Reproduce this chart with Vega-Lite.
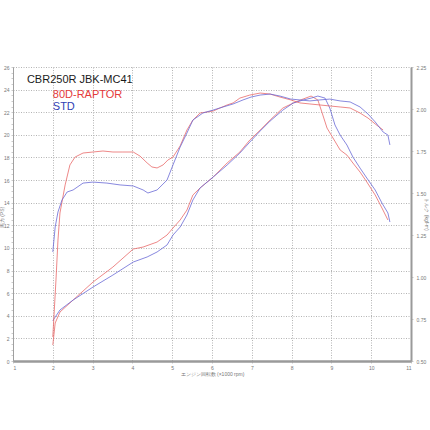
{
  "$schema": "https://vega.github.io/schema/vega-lite/v6.json",
  "autosize": {"type": "none"},
  "width": 398,
  "height": 294,
  "padding": {"left": 13, "top": 67, "right": 19, "bottom": 69},
  "background": "white",
  "config": {"view": {"stroke": null}, "font": "Liberation Sans"},
  "datasets": {
    "labels": [
      {"rpm": 1.35, "L": 24.85, "label": "CBR250R JBK-MC41", "kind": "model"},
      {"rpm": 2.0, "L": 23.52, "label": "80D-RAPTOR", "kind": "80D-RAPTOR"},
      {"rpm": 2.0, "L": 22.46, "label": "STD", "kind": "STD"}
    ],
    "power": [
      {"series": "80D-RAPTOR", "rpm": 2.00, "ps": 1.41},
      {"series": "80D-RAPTOR", "rpm": 2.06, "ps": 3.36},
      {"series": "80D-RAPTOR", "rpm": 2.18, "ps": 4.33},
      {"series": "80D-RAPTOR", "rpm": 2.51, "ps": 5.39},
      {"series": "80D-RAPTOR", "rpm": 3.01, "ps": 6.98},
      {"series": "80D-RAPTOR", "rpm": 3.51, "ps": 8.31},
      {"series": "80D-RAPTOR", "rpm": 4.02, "ps": 9.90},
      {"series": "80D-RAPTOR", "rpm": 4.27, "ps": 10.08},
      {"series": "80D-RAPTOR", "rpm": 4.62, "ps": 10.52},
      {"series": "80D-RAPTOR", "rpm": 4.87, "ps": 11.14},
      {"series": "80D-RAPTOR", "rpm": 5.02, "ps": 11.76},
      {"series": "80D-RAPTOR", "rpm": 5.20, "ps": 12.47},
      {"series": "80D-RAPTOR", "rpm": 5.37, "ps": 13.35},
      {"series": "80D-RAPTOR", "rpm": 5.52, "ps": 14.68},
      {"series": "80D-RAPTOR", "rpm": 5.70, "ps": 15.30},
      {"series": "80D-RAPTOR", "rpm": 6.03, "ps": 16.27},
      {"series": "80D-RAPTOR", "rpm": 6.38, "ps": 17.51},
      {"series": "80D-RAPTOR", "rpm": 6.70, "ps": 18.48},
      {"series": "80D-RAPTOR", "rpm": 6.95, "ps": 19.54},
      {"series": "80D-RAPTOR", "rpm": 7.21, "ps": 20.42},
      {"series": "80D-RAPTOR", "rpm": 7.46, "ps": 21.31},
      {"series": "80D-RAPTOR", "rpm": 7.78, "ps": 22.37},
      {"series": "80D-RAPTOR", "rpm": 8.04, "ps": 22.81},
      {"series": "80D-RAPTOR", "rpm": 8.29, "ps": 23.17},
      {"series": "80D-RAPTOR", "rpm": 8.49, "ps": 23.43},
      {"series": "80D-RAPTOR", "rpm": 8.66, "ps": 23.08},
      {"series": "80D-RAPTOR", "rpm": 8.76, "ps": 22.02},
      {"series": "80D-RAPTOR", "rpm": 8.89, "ps": 20.60},
      {"series": "80D-RAPTOR", "rpm": 9.04, "ps": 19.72},
      {"series": "80D-RAPTOR", "rpm": 9.22, "ps": 18.66},
      {"series": "80D-RAPTOR", "rpm": 9.39, "ps": 18.21},
      {"series": "80D-RAPTOR", "rpm": 9.54, "ps": 17.51},
      {"series": "80D-RAPTOR", "rpm": 9.72, "ps": 16.71},
      {"series": "80D-RAPTOR", "rpm": 9.89, "ps": 15.83},
      {"series": "80D-RAPTOR", "rpm": 10.10, "ps": 14.68},
      {"series": "80D-RAPTOR", "rpm": 10.27, "ps": 13.53},
      {"series": "80D-RAPTOR", "rpm": 10.42, "ps": 12.47},
      {"series": "STD", "rpm": 2.00, "ps": 3.57},
      {"series": "STD", "rpm": 2.18, "ps": 4.51},
      {"series": "STD", "rpm": 2.51, "ps": 5.39},
      {"series": "STD", "rpm": 3.01, "ps": 6.54},
      {"series": "STD", "rpm": 3.51, "ps": 7.60},
      {"series": "STD", "rpm": 4.02, "ps": 8.75},
      {"series": "STD", "rpm": 4.37, "ps": 9.20},
      {"series": "STD", "rpm": 4.62, "ps": 9.64},
      {"series": "STD", "rpm": 4.87, "ps": 10.26},
      {"series": "STD", "rpm": 5.02, "ps": 11.14},
      {"series": "STD", "rpm": 5.20, "ps": 11.85},
      {"series": "STD", "rpm": 5.37, "ps": 12.91},
      {"series": "STD", "rpm": 5.52, "ps": 14.24},
      {"series": "STD", "rpm": 5.70, "ps": 15.30},
      {"series": "STD", "rpm": 6.03, "ps": 16.27},
      {"series": "STD", "rpm": 6.38, "ps": 17.33},
      {"series": "STD", "rpm": 6.70, "ps": 18.39},
      {"series": "STD", "rpm": 6.95, "ps": 19.36},
      {"series": "STD", "rpm": 7.21, "ps": 20.34},
      {"series": "STD", "rpm": 7.46, "ps": 21.22},
      {"series": "STD", "rpm": 7.78, "ps": 22.19},
      {"series": "STD", "rpm": 8.04, "ps": 22.81},
      {"series": "STD", "rpm": 8.29, "ps": 23.08},
      {"series": "STD", "rpm": 8.49, "ps": 23.25},
      {"series": "STD", "rpm": 8.66, "ps": 23.43},
      {"series": "STD", "rpm": 8.84, "ps": 23.25},
      {"series": "STD", "rpm": 8.96, "ps": 22.37},
      {"series": "STD", "rpm": 9.09, "ps": 20.87},
      {"series": "STD", "rpm": 9.22, "ps": 19.98},
      {"series": "STD", "rpm": 9.39, "ps": 19.10},
      {"series": "STD", "rpm": 9.54, "ps": 18.04},
      {"series": "STD", "rpm": 9.72, "ps": 17.06},
      {"series": "STD", "rpm": 9.89, "ps": 16.18},
      {"series": "STD", "rpm": 10.10, "ps": 15.12},
      {"series": "STD", "rpm": 10.27, "ps": 13.97},
      {"series": "STD", "rpm": 10.42, "ps": 13.09},
      {"series": "STD", "rpm": 10.47, "ps": 12.29}
    ],
    "torque": [
      {"series": "80D-RAPTOR", "rpm": 2.00, "kgfm": 0.643},
      {"series": "80D-RAPTOR", "rpm": 2.08, "kgfm": 0.982},
      {"series": "80D-RAPTOR", "rpm": 2.13, "kgfm": 1.220},
      {"series": "80D-RAPTOR", "rpm": 2.18, "kgfm": 1.381},
      {"series": "80D-RAPTOR", "rpm": 2.31, "kgfm": 1.548},
      {"series": "80D-RAPTOR", "rpm": 2.43, "kgfm": 1.667},
      {"series": "80D-RAPTOR", "rpm": 2.56, "kgfm": 1.714},
      {"series": "80D-RAPTOR", "rpm": 2.76, "kgfm": 1.738},
      {"series": "80D-RAPTOR", "rpm": 3.01, "kgfm": 1.744},
      {"series": "80D-RAPTOR", "rpm": 3.26, "kgfm": 1.750},
      {"series": "80D-RAPTOR", "rpm": 3.51, "kgfm": 1.744},
      {"series": "80D-RAPTOR", "rpm": 3.76, "kgfm": 1.744},
      {"series": "80D-RAPTOR", "rpm": 4.02, "kgfm": 1.744},
      {"series": "80D-RAPTOR", "rpm": 4.19, "kgfm": 1.720},
      {"series": "80D-RAPTOR", "rpm": 4.37, "kgfm": 1.679},
      {"series": "80D-RAPTOR", "rpm": 4.49, "kgfm": 1.655},
      {"series": "80D-RAPTOR", "rpm": 4.62, "kgfm": 1.649},
      {"series": "80D-RAPTOR", "rpm": 4.77, "kgfm": 1.667},
      {"series": "80D-RAPTOR", "rpm": 4.89, "kgfm": 1.696},
      {"series": "80D-RAPTOR", "rpm": 5.02, "kgfm": 1.714},
      {"series": "80D-RAPTOR", "rpm": 5.20, "kgfm": 1.780},
      {"series": "80D-RAPTOR", "rpm": 5.37, "kgfm": 1.875},
      {"series": "80D-RAPTOR", "rpm": 5.52, "kgfm": 1.934},
      {"series": "80D-RAPTOR", "rpm": 5.70, "kgfm": 1.976},
      {"series": "80D-RAPTOR", "rpm": 5.87, "kgfm": 1.982},
      {"series": "80D-RAPTOR", "rpm": 6.03, "kgfm": 1.988},
      {"series": "80D-RAPTOR", "rpm": 6.20, "kgfm": 2.006},
      {"series": "80D-RAPTOR", "rpm": 6.38, "kgfm": 2.024},
      {"series": "80D-RAPTOR", "rpm": 6.53, "kgfm": 2.036},
      {"series": "80D-RAPTOR", "rpm": 6.70, "kgfm": 2.065},
      {"series": "80D-RAPTOR", "rpm": 6.95, "kgfm": 2.083},
      {"series": "80D-RAPTOR", "rpm": 7.21, "kgfm": 2.095},
      {"series": "80D-RAPTOR", "rpm": 7.46, "kgfm": 2.089},
      {"series": "80D-RAPTOR", "rpm": 7.71, "kgfm": 2.071},
      {"series": "80D-RAPTOR", "rpm": 7.98, "kgfm": 2.054},
      {"series": "80D-RAPTOR", "rpm": 8.21, "kgfm": 2.036},
      {"series": "80D-RAPTOR", "rpm": 8.46, "kgfm": 2.030},
      {"series": "80D-RAPTOR", "rpm": 8.71, "kgfm": 2.024},
      {"series": "80D-RAPTOR", "rpm": 8.96, "kgfm": 2.018},
      {"series": "80D-RAPTOR", "rpm": 9.22, "kgfm": 2.012},
      {"series": "80D-RAPTOR", "rpm": 9.47, "kgfm": 2.006},
      {"series": "80D-RAPTOR", "rpm": 9.72, "kgfm": 1.976},
      {"series": "80D-RAPTOR", "rpm": 9.92, "kgfm": 1.946},
      {"series": "80D-RAPTOR", "rpm": 10.10, "kgfm": 1.911},
      {"series": "80D-RAPTOR", "rpm": 10.30, "kgfm": 1.875},
      {"series": "STD", "rpm": 2.00, "kgfm": 1.149},
      {"series": "STD", "rpm": 2.06, "kgfm": 1.298},
      {"series": "STD", "rpm": 2.13, "kgfm": 1.387},
      {"series": "STD", "rpm": 2.23, "kgfm": 1.458},
      {"series": "STD", "rpm": 2.36, "kgfm": 1.506},
      {"series": "STD", "rpm": 2.51, "kgfm": 1.518},
      {"series": "STD", "rpm": 2.76, "kgfm": 1.559},
      {"series": "STD", "rpm": 3.01, "kgfm": 1.565},
      {"series": "STD", "rpm": 3.36, "kgfm": 1.559},
      {"series": "STD", "rpm": 3.69, "kgfm": 1.548},
      {"series": "STD", "rpm": 4.02, "kgfm": 1.542},
      {"series": "STD", "rpm": 4.27, "kgfm": 1.518},
      {"series": "STD", "rpm": 4.39, "kgfm": 1.500},
      {"series": "STD", "rpm": 4.62, "kgfm": 1.518},
      {"series": "STD", "rpm": 4.87, "kgfm": 1.577},
      {"series": "STD", "rpm": 5.02, "kgfm": 1.667},
      {"series": "STD", "rpm": 5.20, "kgfm": 1.774},
      {"series": "STD", "rpm": 5.37, "kgfm": 1.857},
      {"series": "STD", "rpm": 5.52, "kgfm": 1.934},
      {"series": "STD", "rpm": 5.77, "kgfm": 1.976},
      {"series": "STD", "rpm": 6.03, "kgfm": 1.994},
      {"series": "STD", "rpm": 6.28, "kgfm": 2.012},
      {"series": "STD", "rpm": 6.53, "kgfm": 2.030},
      {"series": "STD", "rpm": 6.78, "kgfm": 2.054},
      {"series": "STD", "rpm": 6.98, "kgfm": 2.071},
      {"series": "STD", "rpm": 7.21, "kgfm": 2.083},
      {"series": "STD", "rpm": 7.46, "kgfm": 2.089},
      {"series": "STD", "rpm": 7.71, "kgfm": 2.077},
      {"series": "STD", "rpm": 7.98, "kgfm": 2.059},
      {"series": "STD", "rpm": 8.21, "kgfm": 2.054},
      {"series": "STD", "rpm": 8.46, "kgfm": 2.048},
      {"series": "STD", "rpm": 8.71, "kgfm": 2.054},
      {"series": "STD", "rpm": 8.96, "kgfm": 2.059},
      {"series": "STD", "rpm": 9.22, "kgfm": 2.048},
      {"series": "STD", "rpm": 9.47, "kgfm": 2.042},
      {"series": "STD", "rpm": 9.72, "kgfm": 2.012},
      {"series": "STD", "rpm": 9.92, "kgfm": 1.970},
      {"series": "STD", "rpm": 10.10, "kgfm": 1.923},
      {"series": "STD", "rpm": 10.30, "kgfm": 1.863},
      {"series": "STD", "rpm": 10.42, "kgfm": 1.845},
      {"series": "STD", "rpm": 10.47, "kgfm": 1.786}
    ]
  },
  "encoding": {
    "x": {
      "field": "rpm", "type": "quantitative",
      "scale": {"domain": [1, 11], "nice": false, "zero": false},
      "axis": {
        "values": [1, 2, 3, 4, 5, 6, 7, 8, 9, 10, 11],
        "labelExpr": "'' + datum.value",
        "labelOverlap": false,
        "labelSeparation": 0,
        "labelBound": false,
        "title": "エンジン回転数 (×1000 rpm)",
        "titleFontSize": 5, "titleFontWeight": "normal", "titleColor": "#777", "titlePadding": 1,
        "labelFontSize": 5, "labelColor": "#777", "labelPadding": 2,
        "grid": true, "gridColor": "#b4b4b4", "gridDash": [1, 1.5], "gridWidth": 1,
        "domainColor": "#9a9a9a", "domainWidth": 2.5,
        "tickColor": "#aaa", "tickSize": 2, "tickWidth": 0.6
      }
    }
  },
  "layer": [
    {
      "data": {"name": "power"},
      "mark": {"type": "line", "strokeWidth": 0.8, "interpolate": "linear"},
      "encoding": {
        "y": {
          "field": "ps", "type": "quantitative",
          "scale": {"domain": [0, 26], "nice": false},
          "axis": {
            "values": [0, 0.5, 1, 1.5, 2, 2.5, 3, 3.5, 4, 4.5, 5, 5.5, 6, 6.5, 7, 7.5, 8, 8.5, 9, 9.5, 10, 10.5, 11, 11.5, 12, 12.5, 13, 13.5, 14, 14.5, 15, 15.5, 16, 16.5, 17, 17.5, 18, 18.5, 19, 19.5, 20, 20.5, 21, 21.5, 22, 22.5, 23, 23.5, 24, 24.5, 25, 25.5, 26],
            "labelExpr": "datum.value % 2 === 0 ? format(datum.value, 'd') : ''",
            "labelOverlap": false,
            "title": "馬力 (PS)",
            "titleFontSize": 5, "titleFontWeight": "normal", "titleColor": "#777",
            "titleX": -9, "titleY": 150,
            "labelFontSize": 5, "labelColor": "#777", "labelPadding": 2,
            "grid": true, "gridColor": "#b4b4b4", "gridDash": [1, 1.5], "gridWidth": 1,
            "gridOpacity": {"condition": {"test": "datum.value % 2 === 0", "value": 1}, "value": 0},
            "domainColor": "#a0a0a0", "domainWidth": 1,
            "tickColor": "#aaa", "tickSize": 2, "tickWidth": 0.6
          }
        },
        "detail": {"field": "series"},
        "color": {
          "field": "series", "type": "nominal",
          "scale": {"domain": ["80D-RAPTOR", "STD"], "range": ["#e86a6a", "#6a6ad6"]},
          "legend": null
        }
      }
    },
    {
      "data": {"name": "torque"},
      "mark": {"type": "line", "strokeWidth": 0.8, "interpolate": "linear"},
      "encoding": {
        "y": {
          "field": "kgfm", "type": "quantitative",
          "scale": {"domain": [0.5, 2.25], "nice": false, "zero": false},
          "axis": {
            "orient": "right",
            "values": [0.5, 0.75, 1, 1.25, 1.5, 1.75, 2, 2.25],
            "format": ".2f",
            "labelOverlap": false,
            "title": "トルク (kgf-m)",
            "titleFontSize": 5, "titleFontWeight": "normal", "titleColor": "#777",
            "titleX": 12, "titleY": 147,
            "labelFontSize": 5, "labelColor": "#777", "labelPadding": 3,
            "grid": false,
            "domainColor": "#9a9a9a", "domainWidth": 2,
            "tickColor": "#aaa", "tickSize": 2, "tickWidth": 0.6
          }
        },
        "detail": {"field": "series"},
        "color": {
          "field": "series", "type": "nominal",
          "scale": {"domain": ["80D-RAPTOR", "STD"], "range": ["#e86a6a", "#6a6ad6"]},
          "legend": null
        }
      }
    },
    {
      "data": {"name": "labels"},
      "mark": {"type": "text", "align": "left", "baseline": "middle", "fontSize": 11, "font": "Liberation Sans"},
      "encoding": {
        "y": {"field": "L", "type": "quantitative", "scale": {"domain": [0, 26], "nice": false}, "axis": null},
        "text": {"field": "label"},
        "color": {
          "field": "kind", "type": "nominal",
          "scale": {"domain": ["model", "80D-RAPTOR", "STD"], "range": ["#1a1a1a", "#e53a3a", "#3040b4"]},
          "legend": null
        }
      }
    }
  ],
  "resolve": {"scale": {"y": "independent", "color": "independent"}}
}
